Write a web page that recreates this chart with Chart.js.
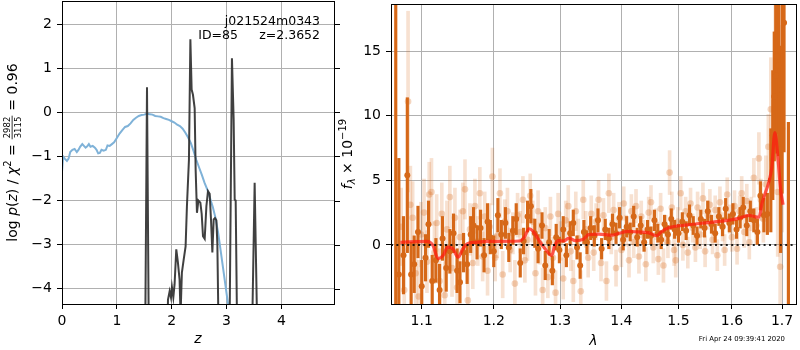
<!DOCTYPE html>
<html><head><meta charset="utf-8">
<script src="https://cdn.jsdelivr.net/npm/chart.js@4/dist/chart.umd.min.js"></script>
<style>
html,body{margin:0;padding:0;background:#fff;}
#wrap{position:relative;width:800px;height:350px;overflow:hidden;background:#fff;}
#c1{position:absolute;left:0;top:0;}
#c2{position:absolute;left:330px;top:0;}
</style></head><body>
<div id="wrap"><canvas id="c1" width="340" height="350"></canvas><canvas id="c2" width="470" height="350"></canvas></div>
<script>
// ---------- left panel data ----------
const zTicks = [0,1,2,3,4];
const logpTicks = [-4,-3,-2,-1,0,1,2];
const zBlue = [0.00,0.02,0.05,0.09,0.12,0.15,0.19,0.23,0.27,0.30,0.33,0.37,0.40,0.43,0.46,0.49,0.52,0.56,0.60,0.63,0.66,0.69,0.72,0.76,0.80,0.83,0.87,0.91,0.95,1.00,1.05,1.10,1.15,1.20,1.25,1.30,1.35,1.40,1.45,1.50,1.55,1.60,1.65,1.70,1.75,1.80,1.85,1.90,1.95,2.00,2.05,2.10,2.15,2.20,2.25,2.30,2.35,2.40,2.45,2.50,2.55,2.60,2.65,2.70,2.75,2.80,2.85,2.90,2.95,3.00,3.05,3.10];
const logpBlue = [-1.35,-1.0,-1.05,-1.1,-1.05,-0.9,-0.85,-0.83,-0.9,-0.85,-0.78,-0.72,-0.76,-0.8,-0.77,-0.72,-0.78,-0.76,-0.8,-0.85,-0.93,-0.92,-0.85,-0.87,-0.85,-0.75,-0.76,-0.72,-0.68,-0.58,-0.48,-0.4,-0.33,-0.31,-0.25,-0.17,-0.12,-0.08,-0.06,-0.05,-0.03,-0.04,-0.05,-0.08,-0.09,-0.1,-0.13,-0.15,-0.17,-0.2,-0.23,-0.28,-0.31,-0.37,-0.46,-0.57,-0.7,-0.88,-1.08,-1.25,-1.42,-1.6,-1.75,-1.95,-2.15,-2.4,-2.75,-3.2,-3.65,-4.1,-4.55,-5.0];
const zBlack = [0.00,0.50,1.00,1.50,1.52,1.55,1.58,1.61,1.90,1.933,1.963,1.987,2.005,2.03,2.053,2.084,2.113,2.144,2.162,2.186,2.217,2.254,2.278,2.315,2.341,2.364,2.388,2.419,2.437,2.461,2.487,2.523,2.547,2.571,2.602,2.633,2.662,2.693,2.717,2.742,2.766,2.79,2.815,2.833,2.851,2.88,3.03,3.058,3.099,3.13,3.149,3.167,3.19,3.22,3.46,3.472,3.513,3.555,3.58,4.96];
const logpBlack = [-6,-6,-6,-6,-4.6,0.57,-4.6,-6,-6,-4.25,-4.06,-4.2,-3.97,-4.2,-3.9,-3.11,-3.4,-3.8,-4.6,-3.64,-3.36,-3.04,-2.13,-1.07,1.66,0.52,0.4,0.1,-1.3,-2.28,-2.0,-2.05,-2.3,-2.81,-2.87,-2.13,-1.79,-1.85,-2.43,-3.18,-2.43,-2.4,-2.45,-2.99,-4.6,-6,-6,-4.6,1.23,-0.16,-1.98,-2.0,-4.6,-6,-6,-4.6,-1.6,-4.6,-6,-6];

// ---------- right panel data ----------
const lamTicks = [1.1,1.2,1.3,1.4,1.5,1.6,1.7];
const fluxTicks = [0,5,10,15];
const lamDark = [1.066,1.070,1.076,1.081,1.086,1.090,1.095,1.100,1.105,1.109,1.114,1.119,1.124,1.128,1.133,1.138,1.143,1.148,1.152,1.157,1.162,1.167,1.171,1.176,1.181,1.186,1.191,1.195,
1.200,1.206,1.211,1.217,1.222,1.228,1.233,1.239,1.244,1.250,1.255,1.261,1.266,1.272,1.277,1.283,1.288,1.294,1.299,1.305,1.310,1.316,1.321,1.327,1.332,1.338,1.343,
1.349,1.355,1.361,1.367,1.373,1.379,1.385,1.391,1.397,1.403,1.409,1.415,1.421,1.427,1.433,1.439,1.445,1.451,1.457,1.463,1.469,1.475,1.481,1.487,1.493,
1.500,1.507,1.514,1.520,1.527,1.534,1.541,1.548,1.554,1.561,1.568,1.575,1.582,1.588,1.595,1.602,1.609,1.616,1.622,1.629,1.636,1.643,1.650,1.656,1.663,1.670,1.677,1.681,1.684,1.687,1.690,1.693,1.697,1.700,1.704,1.713];
const fluxDark = [-6,-2.3,-0.8,5.4,-2.3,-1.5,1.0,-3.2,-1.0,1.6,-2.8,-1.2,-3.5,0.5,-1.8,-0.5,0.9,-2.0,-2.9,-0.6,-1.5,0.8,1.5,0.2,1.3,-0.8,1.8,0.6,
-0.5,2.3,0.8,1.7,-0.2,1.1,2.0,-1.4,0.3,2.2,3.0,0.9,-0.3,1.5,-1.6,0.2,-2.0,0.6,-0.4,1.2,-0.8,0.9,1.7,-0.2,-1.6,1.0,0.2,
1.3,0.7,1.9,-0.3,1.2,0.5,1.6,0.9,2.1,0.4,1.4,1.0,2.2,0.6,1.5,0.2,1.2,0.7,1.9,0.9,0.4,1.6,0.8,2.0,1.2,
0.9,1.8,1.1,2.3,1.5,0.7,2.0,1.3,2.6,1.6,0.9,2.2,1.4,2.8,1.7,2.4,1.2,2.1,2.9,1.5,2.6,1.9,1.0,3.8,2.3,2.4,5.0,8.5,11.5,13.1,14.6,13.9,7.4,12.0,17.2,-5];
const errDark = [26,9,3.0,6,2.5,2.2,2.0,2.0,1.8,1.8,2.0,1.7,2.0,1.7,1.8,1.7,1.5,1.7,1.6,1.5,1.5,1.4,1.4,1.3,1.4,1.3,1.4,1.3,
1.2,1.3,1.1,1.2,1.1,1.1,1.2,1.1,1.0,1.2,1.3,1.1,1.1,1.0,1.1,1.0,1.1,1.0,1.0,1.0,0.9,0.9,1.0,0.9,1.0,0.9,0.9,
0.9,0.8,0.9,0.8,0.8,0.8,0.8,0.8,0.8,0.8,0.8,0.7,0.8,0.7,0.7,0.7,0.7,0.7,0.8,0.7,0.7,0.7,0.7,0.8,0.7,
0.7,0.7,0.7,0.8,0.7,0.7,0.7,0.7,0.8,0.7,0.7,0.7,0.7,0.8,0.7,0.8,0.7,0.8,0.8,0.8,0.8,0.9,1.0,1.1,1.3,1.6,4.0,5,5,6,6,7,8,8,10,14.5];
const lamLight = [1.073,1.077,1.082,1.085,1.088,1.092,1.096,1.099,1.103,1.107,1.110,1.113,1.117,1.120,1.124,1.127,1.131,1.134,1.138,1.141,1.145,1.148,1.152,1.156,1.159,1.163,1.166,1.170,1.173,1.177,1.180,1.184,1.187,1.191,1.194,1.198,
1.202,1.205,1.209,1.213,1.216,1.220,1.224,1.228,1.231,1.235,1.239,1.243,1.246,1.250,1.254,1.258,1.262,1.266,1.269,1.273,1.277,1.281,1.285,1.289,1.293,1.297,1.301,1.305,1.309,1.313,1.317,1.321,1.325,1.329,1.333,1.337,1.341,1.345,
1.350,1.354,1.358,1.362,1.366,1.370,1.375,1.379,1.383,1.387,1.391,1.396,1.400,1.404,1.408,1.413,1.417,1.421,1.425,1.430,1.434,1.438,1.442,1.447,1.451,1.455,1.460,1.464,1.468,1.473,1.477,1.481,1.484,1.488,1.492,1.495,
1.499,1.504,1.508,1.513,1.517,1.522,1.526,1.531,1.535,1.540,1.545,1.549,1.554,1.558,1.563,1.568,1.572,1.577,1.582,1.586,1.591,1.596,1.600,1.605,1.610,1.615,1.619,1.624,1.629,1.634,1.638,1.643,1.648,1.653,1.657,1.662,1.667,1.672,1.677,1.681,1.686,1.691,1.696,1.700];
const fluxLight = [1.4,-3.5,11.1,3.1,2.1,-2.2,-4.0,0.8,2.5,-1.3,3.9,4.1,-0.6,1.7,-2.8,2.4,-3.9,1.2,3.7,-1.8,2.1,-3.3,0.6,2.6,4.3,-4.3,1.2,-1.4,3.0,0.3,4.0,-0.9,2.2,-2.0,1.4,5.3,
-1.0,0.7,4.0,-2.3,1.8,2.6,-0.4,0.9,-3.0,2.3,1.0,3.5,-1.2,0.4,3.8,1.8,-2.2,2.6,0.1,-3.5,1.3,-2.5,2.2,-1.0,-3.7,2.4,0.3,-2.6,1.9,3.0,-0.5,-2.8,2.6,0.5,-3.6,3.5,1.2,-1.0,
2.4,-0.6,1.8,3.5,-1.4,2.3,-2.8,4.0,0.6,2.7,-1.8,2.0,-0.4,3.2,1.1,-1.2,2.6,0.2,3.0,-0.9,2.2,0.7,-1.5,2.5,3.3,-0.2,1.6,-1.1,2.8,-1.6,1.2,0.2,5.6,2.9,-0.4,-1.2,
1.8,4.0,0.0,2.6,-0.6,3.2,1.3,-0.2,2.9,0.8,3.6,-0.5,2.3,3.1,0.4,2.7,-0.8,3.3,1.4,-0.4,3.9,2.0,0.6,3.0,-0.3,2.6,4.0,1.0,3.4,0.2,2.4,5.2,1.5,6.7,3.5,2.0,4.7,7.6,10.5,7.7,12.6,4.1,-1.7,9.0];
const errLight = [3.0,3.2,7.0,3.0,2.8,2.6,2.8,2.5,2.6,2.4,2.5,2.6,2.4,2.2,2.5,2.4,2.6,2.2,2.4,2.2,2.3,2.4,2.1,2.2,2.3,2.4,2.0,2.0,2.1,1.9,2.0,1.9,1.9,1.9,1.8,2.2,
1.8,1.7,1.9,1.8,1.7,1.8,1.7,1.6,1.8,1.7,1.6,1.8,1.7,1.6,1.7,1.6,1.7,1.6,1.6,1.7,1.6,1.6,1.5,1.6,1.7,1.6,1.5,1.6,1.5,1.6,1.5,1.6,1.5,1.5,1.6,1.5,1.4,1.5,
1.4,1.4,1.4,1.5,1.4,1.3,1.5,1.5,1.3,1.3,1.4,1.3,1.3,1.3,1.2,1.3,1.3,1.2,1.3,1.3,1.2,1.2,1.3,1.2,1.3,1.2,1.2,1.2,1.2,1.3,1.1,1.2,1.7,1.2,1.2,1.3,
1.1,1.3,1.2,1.1,1.2,1.2,1.1,1.1,1.2,1.1,1.2,1.2,1.1,1.2,1.1,1.1,1.2,1.2,1.1,1.2,1.3,1.1,1.1,1.2,1.2,1.2,1.3,1.2,1.3,1.3,1.3,1.5,1.4,2.0,1.6,1.8,2.2,2.5,4,3.5,6,5,6,8];
const lamModel = [1.072,1.107,1.115,1.122,1.1285,1.135,1.142,1.1494,1.156,1.162,1.1735,1.196,1.2375,1.245,1.252,1.26,1.266,1.2766,1.287,1.2918,1.298,1.306,1.314,1.3245,1.3375,1.3455,1.362,1.384,1.395,1.412,1.429,1.446,1.4606,1.469,1.481,1.517,1.5545,1.5915,1.611,1.6335,1.6433,1.6532,1.6597,1.6732,1.679,1.6852,1.692,1.6966,1.702];
const fluxModel = [0.2,0.27,-0.05,-1.07,-0.85,-0.18,-0.3,-0.95,-0.3,0.08,0.2,0.27,0.3,0.58,1.25,0.95,0.46,-0.3,-0.82,-0.05,0.33,0.3,0.53,0.33,0.45,0.79,0.84,0.75,0.88,1.04,1.0,0.95,0.71,1.0,1.3,1.55,1.73,1.9,2.03,2.29,2.2,2.15,3.3,4.9,6.0,8.7,6.5,4.4,3.1];

const objectName = 'j021524m0343';
const idText = 'ID=85';
const zText = 'z=2.3652';
const dateText = 'Fri Apr 24 09:39:41 2020';

// ---------- helpers ----------
const FAM = 'DejaVu Sans';
const fmtNum = v => (v < 0 ? '\u2212' + Math.abs(v) : String(v));
const pts = (xs, ys) => xs.map((x, i) => ({x: x, y: ys[i]}));
const bars = (xs, ys, es) => xs.map((x, i) => ({x: x, y: [ys[i] - es[i], ys[i] + es[i]]}));
const ORG = 'rgb(214,104,24)';

function drawRich(ctx, pieces, x, y, rotate) {
  ctx.save();
  ctx.translate(x, y);
  if (rotate) ctx.rotate(-Math.PI / 2);
  ctx.fillStyle = '#000';
  ctx.textBaseline = 'alphabetic';
  ctx.textAlign = 'left';
  let total = 0;
  const w = pieces.map(p => {
    ctx.font = p.f;
    let ww;
    if (p.frac) ww = Math.max(ctx.measureText(p.frac[0]).width, ctx.measureText(p.frac[1]).width) + 3;
    else ww = ctx.measureText(p.t).width;
    total += ww; return ww;
  });
  let cx = -total / 2;
  pieces.forEach((p, i) => {
    ctx.font = p.f;
    if (p.frac) {
      ctx.textAlign = 'center';
      ctx.fillText(p.frac[0], cx + w[i] / 2, -7);
      ctx.fillText(p.frac[1], cx + w[i] / 2, 3.5);
      ctx.textAlign = 'left';
      ctx.fillRect(cx + 0.5, -5.3, w[i] - 1, 0.8);
    } else {
      ctx.fillText(p.t, cx, p.dy || 0);
    }
    cx += w[i];
  });
  ctx.restore();
}

function frameAndTicks(chart, rightTicks) {
  const {ctx, chartArea: a} = chart;
  ctx.save();
  ctx.strokeStyle = '#000';
  ctx.lineWidth = 1;
  const L = Math.round(a.left), R = Math.round(a.right), T = Math.round(a.top), B = Math.round(a.bottom);
  ctx.strokeRect(L + 0.5, T + 0.5, R - L, B - T);
  if (rightTicks) {
    const ys = chart.scales.y;
    ys.ticks.forEach(t => {
      const py = Math.round(ys.getPixelForValue(t.value)) + 0.5;
      ctx.beginPath(); ctx.moveTo(R + 1, py); ctx.lineTo(R + 6, py); ctx.stroke();
    });
  }
  ctx.restore();
}

const tickFont = {family: FAM, size: 14};
const gridOpt = {color: '#b0b0b0', lineWidth: 1, tickColor: '#000', tickLength: 5, drawTicks: true};
const fitX = s => { s.height = 46; s.paddingLeft = 0; s.paddingRight = 0; };
const fitY = w => s => { s.width = w; s.paddingTop = 0; s.paddingBottom = 0; };

// ---------- left chart ----------
const leftPlugin = {
  id: 'leftDeco',
  afterDraw(chart) {
    frameAndTicks(chart, true);
    const {ctx, chartArea: a} = chart;
    const n = '14px ' + FAM, it = 'italic 14px ' + FAM;
    drawRich(ctx, [
      {t: 'log ', f: n}, {t: 'p', f: it}, {t: '(', f: n}, {t: 'z', f: it}, {t: ')', f: n},
      {t: ' / ', f: n}, {t: '\u03c7', f: it}, {t: '2', f: '10px ' + FAM, dy: -6},
      {t: ' = ', f: n}, {frac: ['2982', '3115'], f: '8.5px ' + FAM}, {t: ' = 0.96', f: n}
    ], 17, (a.top + a.bottom) / 2, true);
    ctx.save();
    ctx.fillStyle = '#000';
    ctx.font = 'italic 14px ' + FAM;
    ctx.textAlign = 'center'; ctx.textBaseline = 'alphabetic';
    ctx.fillText('z', (a.left + a.right) / 2, 343);
    ctx.font = '12.5px ' + FAM;
    ctx.textAlign = 'right';
    ctx.fillText(objectName, a.right - 14, 25);
    ctx.fillText(idText, a.right - 96, 39);
    ctx.fillText(zText, a.right - 14, 39);
    ctx.restore();
  }
};

new Chart(document.getElementById('c1'), {
  type: 'line',
  data: {datasets: [
    {data: pts(zBlack, logpBlack), borderColor: 'rgba(48,48,48,0.92)', borderWidth: 2, pointRadius: 0, tension: 0, clip: 0, order: 0},
    {data: pts(zBlue, logpBlue), borderColor: 'rgb(127,178,216)', borderWidth: 2, pointRadius: 0, tension: 0, clip: 0, order: 1}
  ]},
  options: {
    responsive: false, animation: false, events: [], devicePixelRatio: 1,
    layout: {padding: {left: 0, right: 6, top: 1, bottom: 0}},
    plugins: {legend: {display: false}, tooltip: {enabled: false}},
    scales: {
      x: {type: 'linear', min: 0, max: 4.96, bounds: 'data',
        afterBuildTicks: s => { s.ticks = zTicks.map(v => ({value: v})); },
        afterFit: fitX,
        grid: gridOpt, border: {display: false},
        ticks: {color: '#000', font: tickFont, padding: 4, maxRotation: 0, autoSkip: false, callback: v => fmtNum(v)}},
      y: {type: 'linear', min: -4.35, max: 2.53, bounds: 'data',
        afterBuildTicks: s => { s.ticks = logpTicks.map(v => ({value: v})); },
        afterFit: fitY(62),
        grid: gridOpt, border: {display: false},
        ticks: {color: '#000', font: tickFont, padding: 5, autoSkip: false, callback: v => fmtNum(v)}}
    }
  },
  plugins: [leftPlugin]
});

// ---------- right chart ----------
const rightPlugin = {
  id: 'rightDeco',
  afterDraw(chart) {
    frameAndTicks(chart, false);
    const {ctx, chartArea: a} = chart;
    drawRich(ctx, [
      {t: 'f', f: 'italic 14px ' + FAM}, {t: '\u03bb', f: 'italic 10px ' + FAM, dy: 3},
      {t: ' \u00d7 10', f: '14px ' + FAM}, {t: '\u221219', f: '10px ' + FAM, dy: -6}
    ], 22, (a.top + a.bottom) / 2, true);
    ctx.save();
    ctx.fillStyle = '#000';
    ctx.font = 'italic 14px ' + FAM;
    ctx.textAlign = 'center'; ctx.textBaseline = 'alphabetic';
    ctx.fillText('\u03bb', (a.left + a.right) / 2, 345);
    ctx.font = '6.9px ' + FAM;
    ctx.textAlign = 'right';
    ctx.fillText(dateText, a.right - 11, 341);
    ctx.restore();
  }
};

new Chart(document.getElementById('c2'), {
  type: 'scatter',
  data: {datasets: [
    {type: 'line', data: [{x: 1.0599, y: 0}, {x: 1.7288, y: 0}], borderColor: 'rgba(0,0,0,0.85)', borderWidth: 2, borderDash: [2, 3.4], pointRadius: 0, clip: 0, order: 0},
    {type: 'line', data: pts(lamModel, fluxModel), borderColor: 'rgba(255,25,15,0.72)', borderWidth: 3.2, pointRadius: 0, cubicInterpolationMode: 'monotone', clip: 0, order: 1},
    {type: 'scatter', data: pts(lamDark, fluxDark), pointRadius: 3, pointBackgroundColor: ORG, pointBorderWidth: 0, clip: 0, order: 2},
    {type: 'bar', data: bars(lamDark, fluxDark, errDark), backgroundColor: ORG, barThickness: 2.5, grouped: false, borderWidth: 0, borderSkipped: false, clip: 0, order: 3},
    {type: 'scatter', data: pts(lamLight, fluxLight), pointRadius: 3.3, pointBackgroundColor: 'rgba(214,104,24,0.28)', pointBorderWidth: 0, clip: 0, order: 4},
    {type: 'bar', data: bars(lamLight, fluxLight, errLight), backgroundColor: 'rgba(214,104,24,0.2)', barThickness: 3, grouped: false, borderWidth: 0, borderSkipped: false, clip: 0, order: 5}
  ]},
  options: {
    responsive: false, animation: false, events: [], devicePixelRatio: 1,
    layout: {padding: {left: 0, right: 1, top: 1, bottom: 0}},
    plugins: {legend: {display: false}, tooltip: {enabled: false}},
    scales: {
      x: {type: 'logarithmic', min: 1.0599, max: 1.7288, bounds: 'data', offset: false,
        afterBuildTicks: s => { s.ticks = lamTicks.map(v => ({value: v})); },
        afterFit: fitX,
        grid: Object.assign({offset: false}, gridOpt), border: {display: false},
        ticks: {color: '#000', font: tickFont, padding: 4, maxRotation: 0, autoSkip: false, callback: v => Number(v).toFixed(1)}},
      y: {type: 'linear', min: -4.58, max: 18.66, bounds: 'data',
        afterBuildTicks: s => { s.ticks = fluxTicks.map(v => ({value: v})); },
        afterFit: fitY(61),
        grid: gridOpt, border: {display: false},
        ticks: {color: '#000', font: tickFont, padding: 5, autoSkip: false, callback: v => fmtNum(v)}}
    }
  },
  plugins: [rightPlugin]
});
</script>
</body></html>
